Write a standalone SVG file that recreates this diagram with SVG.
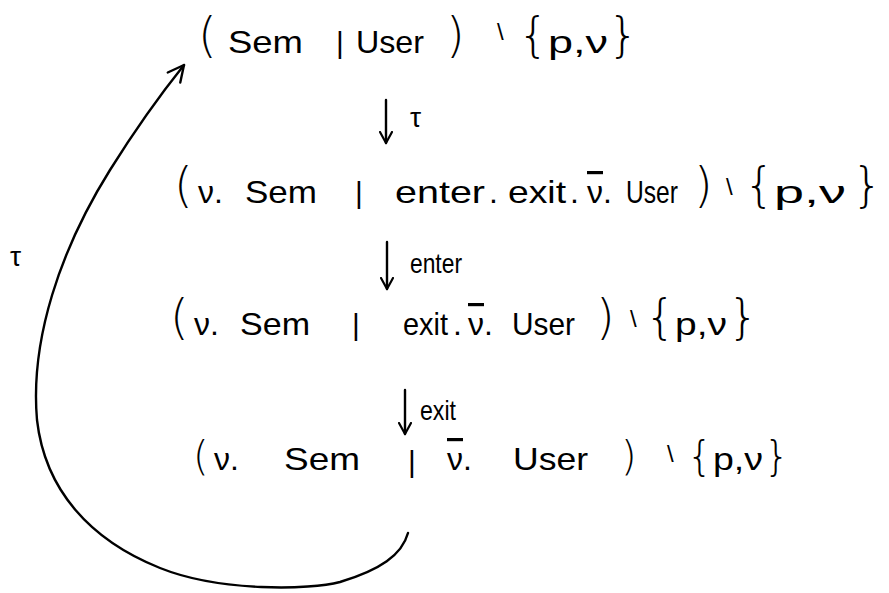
<svg xmlns="http://www.w3.org/2000/svg" width="889" height="593" viewBox="0 0 889 593">
  <style>
    text { font-family: "Liberation Sans", "DejaVu Sans", sans-serif; fill: #000; }
    .w { font-size: 32px; }
    .p { font-size: 48px; font-family: "DejaVu Sans", "Liberation Sans", sans-serif; font-weight: 200; }
    .b { font-size: 30px; }
    .s { font-size: 24px; }
    .lbl { font-size: 28px; }
    .bar { text-decoration: overline; }
    .conn { fill: none; stroke: #000; stroke-width: 2.4; stroke-linecap: round; }
  </style>
  <defs>
    <marker id="ah" viewBox="0 0 14 14" refX="12" refY="7" markerWidth="14" markerHeight="14" markerUnits="userSpaceOnUse" orient="auto">
      <path d="M1,1 L12,7 L1,13" fill="none" stroke="#000" stroke-width="2.2" stroke-linecap="round" stroke-linejoin="round"/>
    </marker>
    <marker id="ahBig" viewBox="0 0 20 20" refX="18" refY="10" markerWidth="20" markerHeight="20" markerUnits="userSpaceOnUse" orient="auto">
      <path d="M2,2 L18,10 L2,18" fill="none" stroke="#000" stroke-width="2.4" stroke-linecap="round" stroke-linejoin="round"/>
    </marker>
  </defs>
  <rect width="889" height="593" fill="#fff"/>

  <g id="state1">
    <text class="p" x="198" y="52">(</text>
    <text class="w" x="228" y="53" textLength="75" lengthAdjust="spacingAndGlyphs">Sem</text>
    <text class="b" x="336" y="53">|</text>
    <text class="w" x="356" y="53" textLength="68" lengthAdjust="spacingAndGlyphs">User</text>
    <text class="p" x="446" y="52">)</text>
    <text class="s" x="497" y="40">\</text>
    <text class="p" x="518" y="52">{</text>
    <text class="w" x="548" y="53" textLength="60" lengthAdjust="spacingAndGlyphs">p,ν</text>
    <text class="p" x="608" y="52">}</text>
  </g>

  <g id="state2">
    <text class="p" x="174" y="202">(</text>
    <text class="w" x="198" y="203">ν.</text>
    <text class="w" x="245" y="203" textLength="72" lengthAdjust="spacingAndGlyphs">Sem</text>
    <text class="b" x="355" y="203">|</text>
    <text class="w" x="395" y="203" textLength="90" lengthAdjust="spacingAndGlyphs">enter</text>
    <text class="w" x="489" y="203">.</text>
    <text class="w" x="508" y="203" textLength="58" lengthAdjust="spacingAndGlyphs">exit</text>
    <text class="w" x="570" y="203">.</text>
    <text class="w" x="587" y="203"><tspan class="bar">ν</tspan>.</text>
    <text class="w" x="626" y="203" textLength="52" lengthAdjust="spacingAndGlyphs">User</text>
    <text class="p" x="694" y="202">)</text>
    <text class="s" x="726" y="195">\</text>
    <text class="p" x="744" y="202">{</text>
    <text class="w" x="774" y="203" textLength="72" lengthAdjust="spacingAndGlyphs">p,ν</text>
    <text class="p" x="852" y="202">}</text>
  </g>

  <g id="state3">
    <text class="p" x="170" y="334">(</text>
    <text class="w" x="194" y="335">ν.</text>
    <text class="w" x="240" y="335" textLength="70" lengthAdjust="spacingAndGlyphs">Sem</text>
    <text class="b" x="352" y="335">|</text>
    <text class="w" x="403" y="335" textLength="45" lengthAdjust="spacingAndGlyphs">exit</text>
    <text class="w" x="453" y="335">.</text>
    <text class="w" x="468" y="335"><tspan class="bar">ν</tspan>.</text>
    <text class="w" x="512" y="335" textLength="63" lengthAdjust="spacingAndGlyphs">User</text>
    <text class="p" x="596" y="334">)</text>
    <text class="s" x="630" y="327">\</text>
    <text class="p" x="645" y="334">{</text>
    <text class="w" x="675" y="335" textLength="52" lengthAdjust="spacingAndGlyphs">p,ν</text>
    <text class="p" x="728" y="334">}</text>
  </g>

  <g id="state4">
    <text class="p" x="193" y="470" style="font-size:40px">(</text>
    <text class="w" x="214" y="470">ν.</text>
    <text class="w" x="284" y="470" textLength="76" lengthAdjust="spacingAndGlyphs">Sem</text>
    <text class="b" x="408" y="472">|</text>
    <text class="w" x="447" y="470"><tspan class="bar">ν</tspan>.</text>
    <text class="w" x="513" y="470" textLength="75" lengthAdjust="spacingAndGlyphs">User</text>
    <text class="p" x="621" y="470" style="font-size:40px">)</text>
    <text class="s" x="667" y="462">\</text>
    <text class="p" x="687" y="470" style="font-size:40px">{</text>
    <text class="w" x="713" y="470" textLength="50" lengthAdjust="spacingAndGlyphs">p,ν</text>
    <text class="p" x="764" y="470" style="font-size:40px">}</text>
  </g>

  <g id="connectors">
    <line class="conn" x1="386" y1="100" x2="386" y2="143" marker-end="url(#ah)"/>
    <text class="lbl" x="410" y="127">τ</text>
    <line class="conn" x1="387" y1="242" x2="387" y2="289" marker-end="url(#ah)"/>
    <text class="lbl" x="410" y="273" textLength="52" lengthAdjust="spacingAndGlyphs">enter</text>
    <line class="conn" x1="405" y1="390" x2="405" y2="434" marker-end="url(#ah)"/>
    <text class="lbl" x="420" y="420" textLength="36" lengthAdjust="spacingAndGlyphs">exit</text>
    <path class="conn" d="M408,533 C402,555 380,570 340,582 C310,590 220,592 160,568 C90,540 45,490 37,420 C30,340 60,250 110,170 C135,130 160,95 184,65" marker-end="url(#ahBig)"/>
    <text class="lbl" x="10" y="266">τ</text>
  </g>
</svg>
